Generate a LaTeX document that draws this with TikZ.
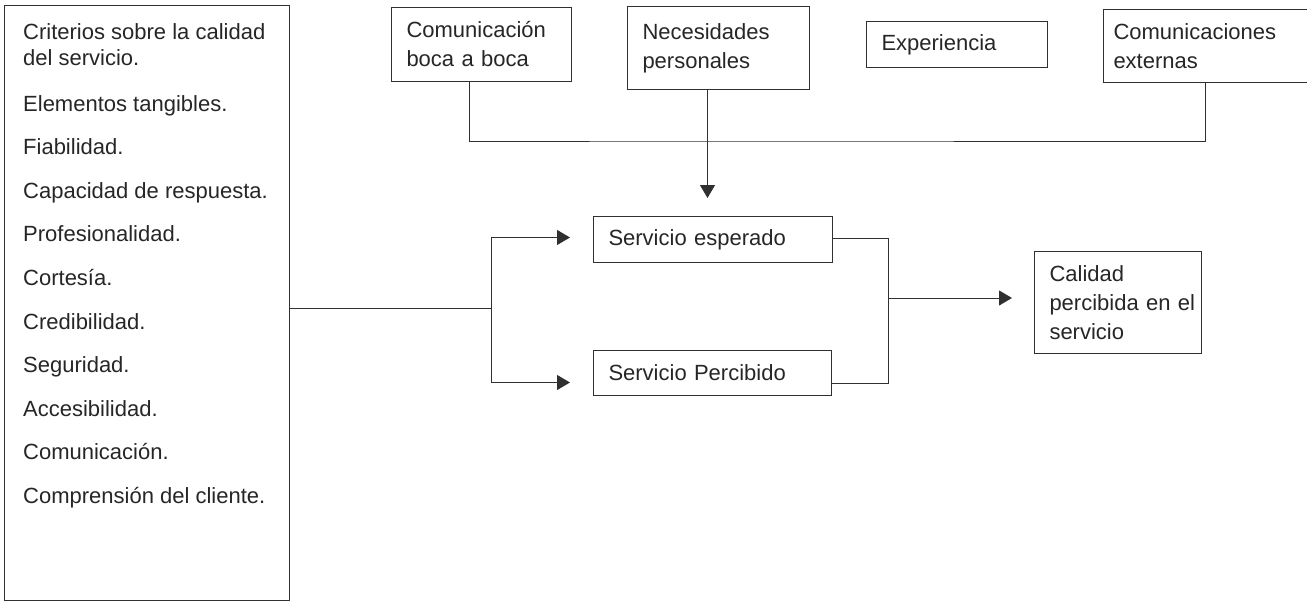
\documentclass[tikz,border=0pt]{standalone}
\usepackage{fontspec}
\setmainfont{Liberation Sans}
\usetikzlibrary{arrows.meta}
\definecolor{lineg}{HTML}{303030}
\definecolor{textg}{HTML}{262626}

\begin{document}
\begin{tikzpicture}[x=1pt, y=-1pt,
		box/.style={draw=lineg, line width=1pt, anchor=north west, align=left, inner xsep=15pt, inner ysep=0pt, text=textg, font=\fontsize{22}{29}\selectfont},
		item/.style={inner sep=0pt, text=textg, font=\fontsize{22}{26}\selectfont},
		conn/.style={draw=lineg, line width=1pt},
		arr/.style={conn, -{Triangle[length=13pt,width=15pt]}}]
		\useasboundingbox (0,0) rectangle (1307,602);
		
		% criteria on the left
		\node[draw=lineg, line width=1pt, anchor=north west, minimum width=285pt, minimum height=595pt, inner sep=0pt] (crit) at (4,5) {};
		\node[item, anchor=north west, align=left] (crit0) at (23,23) {Criterios sobre la calidad\\del servicio.};
		\foreach \txt [count=\i] in {Elementos tangibles., Fiabilidad., Capacidad de respuesta., Profesionalidad., Cortesía., Credibilidad., Seguridad., Accesibilidad., Comunicación., Comprensión del cliente.}
			\node[item, anchor=base west] (crit\i) at (23, {111+43.6*(\i-1)}) {\txt};
		
		% factors on top
		\node[box, text width=150pt, minimum height=74pt] (boca) at (391,7) {Comunicación\\boca a boca};
		\node[box, text width=152pt, minimum height=83pt] (neces) at (627,6) {Necesidades\\personales};
		\node[box, text width=151pt, minimum height=46pt] (exper) at (866,21) {Experiencia};
		\node[box, inner xsep=10pt, text width=210pt, minimum height=73pt] (extern) at (1103,9) {Comunicaciones\\externas};
		
		% expected / perceived
		\node[box, text width=209pt, minimum height=46pt] (esper) at (593,216) {Servicio esperado};
		\node[box, text width=208pt, minimum height=45pt] (percib) at (593,350) {Servicio Percibido};
		\node[box, text width=137pt, minimum height=102pt] (calid) at (1034,251) {Calidad\\\mbox{percibida en el}\\servicio};
		
		\coordinate (bus) at (707,141);
		\draw[conn] ([xshift=-12pt]boca.south) |- (bus) -| ([xshift=-13pt]extern.south);
		\draw[arr, shorten >=18pt] ([xshift=-11pt]neces.south) -- ([xshift=-11pt]neces.south |- esper.north);
		
		\coordinate (split) at (491,308);
		\draw[conn] (crit.east |- split) -- (split);
		\draw[arr, shorten >=23pt] (split) |- ([yshift=2pt]esper.west);
		\draw[arr, shorten >=23pt] (split) |- ([yshift=-9.5pt]percib.west);
		
		\coordinate (merge) at (888,298);
		\draw[conn] ([yshift=1pt]esper.east) -| (merge);
		\draw[conn] ([yshift=-10.5pt]percib.east) -| (merge);
		\draw[arr, shorten >=22pt] (merge) -- (merge -| calid.west);
	\end{tikzpicture}
\end{document}
